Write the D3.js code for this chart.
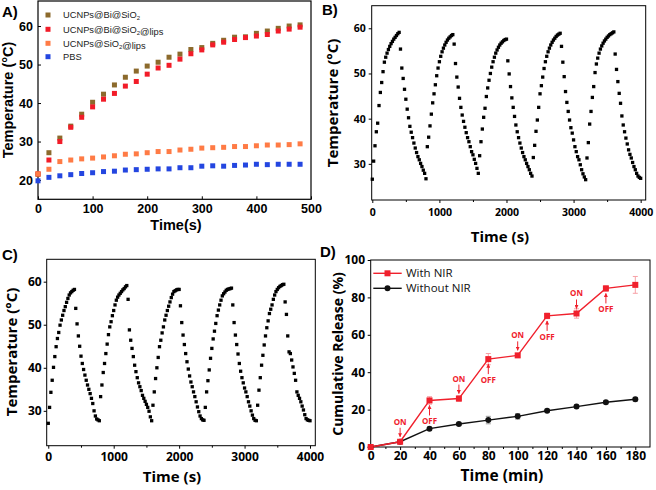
<!DOCTYPE html>
<html><head><meta charset="utf-8">
<script src="https://cdn.jsdelivr.net/npm/d3@7"></script>
<style>body{margin:0;background:#fff}svg{display:block}</style>
</head><body><svg id="c" width="656" height="490"></svg>
<script>
// ---------- DATA ----------
// Panel A
const timeA = [0,20,40,60,80,100,120,140,160,180,200,220,240,260,280,300,320,340,360,380,400,420,440,460,480];
const seriesANames = ["UCNPs@Bi@SiO2","UCNPs@Bi@SiO2@lips","UCNPs@SiO2@lips","PBS"];
const biSiO2 = [21.5,27.1,30.9,34.0,37.1,40.2,42.3,44.7,46.7,48.3,49.6,50.6,51.9,52.7,53.9,54.4,55.5,56.3,57.1,57.2,58.1,58.7,59.4,60.0,60.3];
const biSiO2Lips = [21.6,25.2,30.0,33.7,36.3,39.0,41.0,42.5,44.4,45.6,47.5,49.1,49.8,51.4,52.8,53.8,55.1,55.8,56.5,57.0,57.4,57.8,58.7,59.2,59.7];
const siO2Lips = [21.6,22.8,24.8,25.2,25.5,25.7,26.0,26.3,26.7,26.8,27.1,27.4,27.4,27.8,28.0,28.3,28.4,28.5,28.7,28.7,28.9,29.1,29.1,29.2,29.4];
const pbs = [19.8,20.7,21.1,21.4,21.7,21.9,22.2,22.3,22.6,22.7,22.8,22.9,22.9,23.2,23.2,23.6,23.7,23.6,23.8,23.9,24.1,24.0,24.1,24.1,24.1];
const ticksA_x = [0,100,200,300,400,500];
const ticksA_y = [20,30,40,50,60];

// Panel B (sampled every 20 s, 0..4000 s)
const tempB = [
 26.6,30.6,34.0,37.1,39.0,42.9,45.8,48.0,50.4,52.5,53.6,54.5,55.3,56.0,56.6,57.1,57.6,58.0,58.4,58.8,59.1,
 55.4,51.2,48.9,46.5,44.3,42.1,40.2,38.3,37.0,35.8,34.6,33.5,32.5,31.6,30.9,30.1,29.4,28.6,27.9,
 26.7,33.8,35.9,38.4,41.0,43.5,45.5,47.5,49.5,51.2,52.6,53.8,54.8,55.6,56.3,56.9,57.4,57.8,58.1,58.4,58.6,
 56.5,52.2,49.2,47.0,44.5,42.5,40.8,39.4,38.1,36.9,35.8,34.9,33.8,32.7,32.0,31.0,30.1,29.0,27.9,
 31.8,34.9,37.7,40.3,42.3,44.9,46.8,48.5,50.0,51.4,52.6,53.6,54.5,55.2,55.8,56.3,56.7,57.0,57.3,57.5,57.6,
 52.8,49.9,47.1,44.6,42.5,40.5,38.6,37.1,35.8,34.6,33.5,32.5,31.6,30.9,30.1,29.4,28.7,27.9,27.3,
 31.4,34.1,37.2,39.7,42.5,45.5,47.3,49.2,51.1,52.6,53.8,54.8,55.6,56.3,56.9,57.4,57.8,58.2,58.5,58.7,58.9,
 56.0,52.5,49.3,46.0,43.6,41.6,39.7,38.0,36.8,35.3,33.8,32.7,31.6,30.9,29.8,28.7,27.8,27.1,26.5,
 31.3,34.7,38.8,41.6,44.7,47.1,50.2,52.1,53.4,54.5,55.4,56.1,56.7,57.2,57.6,58.0,58.3,58.6,58.8,59.0,59.2,
 54.3,50.9,48.2,45.6,43.4,40.6,38.6,37.1,35.7,34.4,33.1,32.1,31.3,30.3,29.4,28.7,27.9,27.3,27.0,
 26.8];
// Panel C (sampled every 20 s, 0..4000 s)
const tempC = [
 27.1,30.8,34.3,37.1,40.1,42.6,44.9,46.8,48.2,49.9,51.1,52.2,53.3,54.2,55.2,56.1,56.9,57.4,57.7,58.0,58.2,
 53.8,50.2,47.4,45.0,42.7,41.0,39.6,38.3,37.1,36.0,35.0,34.0,32.9,31.7,30.0,28.8,28.1,27.9,27.7,
 33.3,36.0,38.9,41.0,43.3,45.5,47.7,49.5,50.7,52.1,53.3,54.6,55.7,56.4,56.9,57.3,57.7,58.1,58.4,58.8,59.1,
 55.9,48.8,46.4,44.5,42.6,40.6,39.1,37.7,36.5,35.6,34.7,33.6,32.9,32.2,31.5,30.8,29.9,28.6,27.7,
 31.3,34.4,37.5,40.0,42.4,44.9,46.4,48.1,49.5,51.1,52.2,53.3,54.3,55.3,56.3,57.1,57.7,57.9,58.1,58.2,58.2,
 54.4,50.5,47.6,45.4,43.3,41.4,39.7,38.1,36.7,35.6,34.4,33.3,32.1,30.9,29.8,28.8,28.2,27.9,27.8,
 30.8,34.4,37.0,39.5,42.2,44.5,46.7,48.5,50.3,52.1,53.4,54.6,55.7,56.7,57.2,57.6,58.0,58.2,58.3,58.4,58.5,
 54.6,50.5,47.6,45.4,43.2,41.0,39.2,37.7,36.5,35.3,34.4,33.3,32.1,31.1,30.0,29.0,28.2,27.8,27.7,
 31.3,34.8,37.7,40.6,42.9,45.3,47.4,49.3,50.9,52.6,53.6,54.6,55.9,56.9,57.7,58.2,58.6,58.9,59.1,59.3,59.4,
 55.3,52.4,47.4,43.7,43.3,41.8,40.2,38.7,37.1,34.4,33.6,32.9,32.1,31.1,30.2,29.1,28.2,27.9,27.8,
 27.7];
const ticksBC_x = [0,1000,2000,3000,4000];
const ticksBC_y = [30,40,50,60];

// Panel D
const timeD = [0,20,40,60,80,100,120,140,160,180];
const withNIR = [0,2.8,24.9,25.9,47.0,49.0,70.1,71.4,84.8,86.7];
const withNIRErr = [0,0.5,2.0,1.5,3.0,1.0,1.5,2.5,1.5,4.5];
const withoutNIR = [0,2.8,9.8,12.3,14.4,16.4,19.4,21.6,23.9,25.5];
const withoutNIRErr = [0,0.5,0.8,0.8,2.0,1.5,0.8,0.8,0.8,1.0];
const ticksD_x = [0,20,40,60,80,100,120,140,160,180];
const ticksD_y = [0,20,40,60,80,100];
const onTimes = [20,60,100,140];
const offTimes = [40,80,120,160];

// ---------- DRAW ----------
const svg = d3.select("#c");
const fA = "Arial, 'Liberation Sans', sans-serif";
const fB = "'Open Sans', 'Noto Sans', sans-serif";
const fmt = d3.format("d");

function frame(x0,y0,x1,y1,w){
  svg.append("rect").attr("x",x0).attr("y",y0).attr("width",x1-x0).attr("height",y1-y0)
    .attr("fill","none").attr("stroke","#000").attr("stroke-width",w||1);
}
function styleAxis(g,font,size){
  g.select(".domain").remove();
  g.selectAll("text").attr("font-family",font).attr("font-size",size).attr("font-weight","bold").attr("fill","#000");
  g.selectAll("line").attr("stroke","#000");
}

// ---- Panel A ----
{
  const x = d3.scaleLinear([0,500],[38,311]);
  const y = d3.scaleLinear([15,66.5],[199.3,1]);
  svg.append("g").attr("transform","translate(0,199.3)")
    .call(d3.axisBottom(x).tickValues(ticksA_x).tickFormat(fmt).tickSizeInner(-3).tickSizeOuter(0).tickPadding(5))
    .call(g=>styleAxis(g,fA,12.5));
  svg.append("g").attr("transform","translate(38,0)")
    .call(d3.axisLeft(y).tickValues(ticksA_y).tickFormat(fmt).tickSizeInner(-3).tickSizeOuter(0).tickPadding(5))
    .call(g=>styleAxis(g,fA,12.5));
  frame(38,1,311,199.3,1.2);
  const cols = ["#8c6a2c","#f21c28","#ff7b45","#2446e0"];
  const sets = [biSiO2,biSiO2Lips,siO2Lips,pbs];
  const s = 5;
  sets.forEach((arr,k)=>{
    svg.append("g").selectAll("rect").data(arr).join("rect")
      .attr("x",(d,i)=>x(timeA[i])-s/2).attr("y",d=>y(d)-s/2)
      .attr("width",s).attr("height",s).attr("fill",cols[k]);
  });
  // legend
  const ly = [15,29.3,43.3,56.7];
  seriesANames.forEach((n,k)=>{
    svg.append("rect").attr("x",48-2.5).attr("y",ly[k]-2.5).attr("width",5).attr("height",5).attr("fill",cols[k]);
    const t = svg.append("text").attr("x",63).attr("y",ly[k]+3.2).attr("font-family",fA).attr("font-size",9.3).attr("fill","#222");
    const parts = n.split("SiO2");
    parts.forEach((p,j)=>{
      t.append("tspan").text(p);
      if(j<parts.length-1){
        t.append("tspan").text("SiO");
        t.append("tspan").attr("font-size",6).attr("dy",2).text("2");
        t.append("tspan").attr("dy",-2).text("");
      }
    });
  });
  svg.append("text").attr("transform","translate(13,100) rotate(-90)").attr("text-anchor","middle")
    .attr("font-family",fA).attr("font-weight","bold").attr("font-size",14.5).text("Temperature (°C)");
  svg.append("text").attr("x",176).attr("y",230).attr("text-anchor","middle")
    .attr("font-family",fA).attr("font-weight","bold").attr("font-size",14.5).text("Time(s)");
  svg.append("text").attr("x",2).attr("y",17).attr("font-family",fA).attr("font-weight","bold").attr("font-size",15).text("A)");
}

// ---- Panels B & C ----
function cyclePanel(data,xr,xd,yr,yd,lbl,lblPos,tSize,titleSize,yTitlePos,xTitlePos,padX,padY){
  const x = d3.scaleLinear(xd,xr);
  const y = d3.scaleLinear(yd,yr);
  const times = d3.range(0,4001,20);
  svg.append("g").attr("transform",`translate(0,${yr[0]})`)
    .call(d3.axisBottom(x).tickValues(ticksBC_x).tickFormat(fmt).tickSizeInner(3).tickSizeOuter(0).tickPadding(padX))
    .call(g=>styleAxis(g,fB,tSize));
  svg.append("g").attr("transform",`translate(0,${yr[0]})`)
    .call(d3.axisBottom(x).tickValues([500,1500,2500,3500]).tickSizeInner(2).tickSizeOuter(0).tickFormat(""))
    .call(g=>styleAxis(g,fB,tSize));
  svg.append("g").attr("transform",`translate(${xr[0]},0)`)
    .call(d3.axisLeft(y).tickValues(ticksBC_y).tickFormat(fmt).tickSizeInner(3).tickSizeOuter(0).tickPadding(padY))
    .call(g=>styleAxis(g,fB,tSize));
  frame(xr[0],yr[1],xr[1],yr[0],1);
  const s = 3.3;
  svg.append("g").selectAll("rect").data(data).join("rect")
    .attr("x",(d,i)=>x(times[i])-s/2).attr("y",d=>y(d)-s/2)
    .attr("width",s).attr("height",s).attr("fill","#000");
  svg.append("text").attr("transform",`translate(${yTitlePos[0]},${yTitlePos[1]}) rotate(-90)`).attr("text-anchor","middle")
    .attr("font-family",fB).attr("font-weight","bold").attr("font-size",titleSize).text("Temperature (°C)");
  svg.append("text").attr("x",xTitlePos[0]).attr("y",xTitlePos[1]).attr("text-anchor","middle")
    .attr("font-family",fB).attr("font-weight","bold").attr("font-size",titleSize).text("Time (s)");
  svg.append("text").attr("x",lblPos[0]).attr("y",lblPos[1]).attr("font-family",fA).attr("font-weight","bold").attr("font-size",15).text(lbl);
}
cyclePanel(tempB,[371.7,645.7],[-9,4075],[200,5.7],[22,65],"B)",[322,15],10.5,15,[338,103],[500,242],6,3);
cyclePanel(tempC,[46.7,315.3],[-24,4081],[445.7,259.3],[21.9,65.2],"C)",[2,260],12,15,[17,352],[172,482],4,2);

// ---- Panel D ----
{
  const x = d3.scaleLinear([0,190],[370.7,650]);
  const y = d3.scaleLinear([0,100],[447,260]);
  svg.append("g").attr("transform","translate(0,447)")
    .call(d3.axisBottom(x).tickValues(ticksD_x).tickFormat(fmt).tickSizeInner(3).tickSizeOuter(0).tickPadding(1.5))
    .call(g=>styleAxis(g,fB,12));
  svg.append("g").attr("transform","translate(0,447)")
    .call(d3.axisBottom(x).tickValues(d3.range(10,190,20)).tickSizeInner(2).tickSizeOuter(0).tickFormat(""))
    .call(g=>styleAxis(g,fB,12));
  svg.append("g").attr("transform","translate(370.7,0)")
    .call(d3.axisLeft(y).tickValues(ticksD_y).tickFormat(fmt).tickSizeInner(3).tickSizeOuter(0).tickPadding(2.7))
    .call(g=>styleAxis(g,fB,12));
  frame(370.7,260,650,447,1);
  const red = "#f0202c";
  function errs(vals,err,col){
    const g = svg.append("g").attr("stroke",col).attr("stroke-width",1);
    vals.forEach((v,i)=>{
      if(err[i]<=0.6) return;
      const cx = x(timeD[i]);
      g.append("line").attr("x1",cx).attr("x2",cx).attr("y1",y(v-err[i])).attr("y2",y(v+err[i]));
      g.append("line").attr("x1",cx-2.5).attr("x2",cx+2.5).attr("y1",y(v-err[i])).attr("y2",y(v-err[i]));
      g.append("line").attr("x1",cx-2.5).attr("x2",cx+2.5).attr("y1",y(v+err[i])).attr("y2",y(v+err[i]));
    });
  }
  errs(withoutNIR,withoutNIRErr,"#999");
  errs(withNIR,withNIRErr,"#f7a0a6");
  const line = d3.line().x((d,i)=>x(timeD[i])).y(d=>y(d));
  svg.append("path").attr("d",line(withoutNIR)).attr("fill","none").attr("stroke","#111").attr("stroke-width",1.4);
  svg.append("path").attr("d",line(withNIR)).attr("fill","none").attr("stroke",red).attr("stroke-width",1.4);
  svg.append("g").selectAll("circle").data(withoutNIR).join("circle")
    .attr("cx",(d,i)=>x(timeD[i])).attr("cy",d=>y(d)).attr("r",3).attr("fill","#111");
  svg.append("g").selectAll("rect").data(withNIR).join("rect")
    .attr("x",(d,i)=>x(timeD[i])-3).attr("y",d=>y(d)-3).attr("width",6).attr("height",6).attr("fill",red);
  const defs = svg.append("defs");
  defs.append("marker").attr("id","ah").attr("viewBox","0 0 10 10").attr("refX",9).attr("refY",5)
    .attr("markerWidth",4).attr("markerHeight",4).attr("orient","auto")
    .append("path").attr("d","M0,0 L10,5 L0,10 Z").attr("fill",red);
  onTimes.forEach(t=>{
    const i = timeD.indexOf(t), cx = x(t), cy = y(withNIR[i]);
    svg.append("text").attr("x",cx).attr("y",cy-17).attr("text-anchor","middle").attr("font-family",fB)
      .attr("font-weight","bold").attr("font-size",8).attr("fill",red).text("ON");
    svg.append("line").attr("x1",cx).attr("x2",cx).attr("y1",cy-14).attr("y2",cy-5)
      .attr("stroke",red).attr("stroke-width",1).attr("marker-end","url(#ah)");
  });
  offTimes.forEach(t=>{
    const i = timeD.indexOf(t), cx = x(t), cy = y(withNIR[i]);
    svg.append("text").attr("x",cx).attr("y",cy+24).attr("text-anchor","middle").attr("font-family",fB)
      .attr("font-weight","bold").attr("font-size",8).attr("fill",red).text("OFF");
    svg.append("line").attr("x1",cx).attr("x2",cx).attr("y1",cy+15).attr("y2",cy+5)
      .attr("stroke",red).attr("stroke-width",1).attr("marker-end","url(#ah)");
  });
  const lg = [[273.3,"With NIR",red,"rect"],[288.3,"Without NIR","#111","circle"]];
  lg.forEach(([ly,txt,col,shape])=>{
    svg.append("line").attr("x1",373.3).attr("x2",401.7).attr("y1",ly).attr("y2",ly).attr("stroke",col).attr("stroke-width",1.4);
    if(shape==="rect") svg.append("rect").attr("x",387.5-3).attr("y",ly-3).attr("width",6).attr("height",6).attr("fill",col);
    else svg.append("circle").attr("cx",387.5).attr("cy",ly).attr("r",3).attr("fill",col);
    svg.append("text").attr("x",406).attr("y",ly+4.1).attr("font-family",fB).attr("font-size",11.5).attr("fill","#111").text(txt);
  });
  svg.append("text").attr("transform","translate(343,354) rotate(-90)").attr("text-anchor","middle")
    .attr("font-family",fB).attr("font-weight","bold").attr("font-size",14).text("Cumulative Release (%)");
  svg.append("text").attr("x",502).attr("y",481).attr("text-anchor","middle")
    .attr("font-family",fB).attr("font-weight","bold").attr("font-size",15.5).text("Time (min)");
  svg.append("text").attr("x",320).attr("y",257).attr("font-family",fA).attr("font-weight","bold").attr("font-size",15).text("D)");
}
</script>
</body></html>
